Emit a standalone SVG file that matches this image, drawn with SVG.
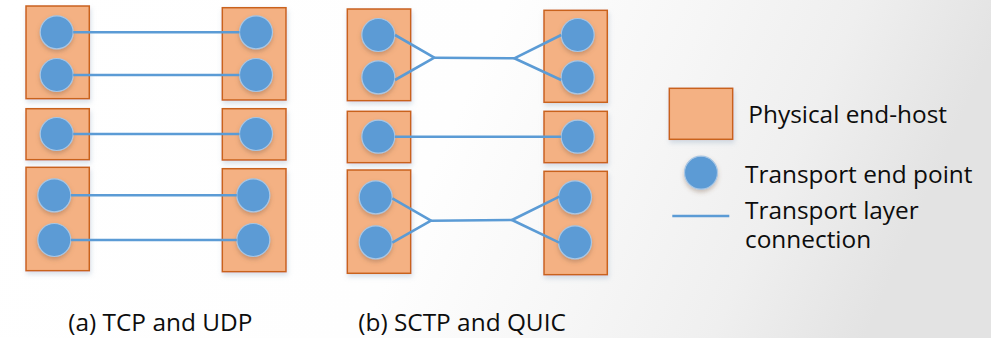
<svg xmlns="http://www.w3.org/2000/svg" width="991" height="338" viewBox="0 0 991 338">
  <defs>
    <linearGradient id="bg" x1="0" y1="0" x2="1" y2="0.15">
      <stop offset="0" stop-color="#ffffff"/>
      <stop offset="0.5" stop-color="#fefefe"/>
      <stop offset="0.7" stop-color="#f6f6f6"/>
      <stop offset="0.85" stop-color="#efefef"/>
      <stop offset="1" stop-color="#e3e3e3"/>
    </linearGradient>
    <filter id="shadow" x="-30%" y="-30%" width="160%" height="160%">
      <feDropShadow dx="1" dy="3" stdDeviation="2.5" flood-color="#8fa6c0" flood-opacity="0.35"/>
    </filter>
    <filter id="dotShadow" x="-40%" y="-40%" width="180%" height="180%">
      <feDropShadow dx="0" dy="2.5" stdDeviation="2" flood-color="#7a5a40" flood-opacity="0.35"/>
    </filter>
  </defs>
  <style>
    .host { fill: #f4b183; stroke: #c9621c; stroke-width: 1.5; filter: url(#shadow); }
    .ep { fill: #5b9bd5; stroke: #a8c6e4; stroke-width: 1.2; filter: url(#dotShadow); }
    .conn { fill: none; stroke: #5b9bd5; stroke-width: 2.6; stroke-linejoin: round; }
    .label { font-family: "Open Sans", "Liberation Sans", sans-serif; font-size: 24.4px; fill: #0d0d0d; }
  </style>

  <rect x="0" y="0" width="991" height="338" fill="url(#bg)"/>

  <!-- (a) TCP and UDP: one connection per endpoint pair -->
  <g id="a-host-top-left"><rect class="host" x="26" y="6" width="63.3" height="92.7"/><circle class="ep" cx="56.7" cy="32.3" r="16.5"/><circle class="ep" cx="56.7" cy="75" r="16.5"/></g>
  <g id="a-host-top-right"><rect class="host" x="222.3" y="7.7" width="63.7" height="92.3"/><circle class="ep" cx="256" cy="32.3" r="16.5"/><circle class="ep" cx="256" cy="75" r="16.5"/></g>
  <g id="a-host-mid-left"><rect class="host" x="26" y="108.7" width="63.3" height="51"/><circle class="ep" cx="56.7" cy="134" r="16.5"/></g>
  <g id="a-host-mid-right"><rect class="host" x="222.3" y="108.7" width="63.7" height="51.3"/><circle class="ep" cx="256" cy="134" r="16.5"/></g>
  <g id="a-host-bot-left"><rect class="host" x="26" y="167.3" width="63.3" height="103.4"/><circle class="ep" cx="54.3" cy="195.3" r="16.5"/><circle class="ep" cx="54.3" cy="240" r="16.5"/></g>
  <g id="a-host-bot-right"><rect class="host" x="222.3" y="168.7" width="63.7" height="103"/><circle class="ep" cx="253.3" cy="195.3" r="16.5"/><circle class="ep" cx="253.3" cy="240" r="16.5"/></g>

  <!-- (b) SCTP and QUIC: multiple endpoints share one connection -->
  <g id="b-host-top-left"><rect class="host" x="347.3" y="9" width="63.4" height="91.7"/><circle class="ep" cx="378.3" cy="35" r="16.5"/><circle class="ep" cx="378.3" cy="77.3" r="16.5"/></g>
  <g id="b-host-top-right"><rect class="host" x="544" y="10.3" width="63.3" height="92"/><circle class="ep" cx="577.7" cy="35" r="16.5"/><circle class="ep" cx="577.7" cy="77.3" r="16.5"/></g>
  <g id="b-host-mid-left"><rect class="host" x="347.3" y="111.3" width="63.4" height="51.4"/><circle class="ep" cx="378.3" cy="136.7" r="16.5"/></g>
  <g id="b-host-mid-right"><rect class="host" x="544" y="111.3" width="63.3" height="51.4"/><circle class="ep" cx="577.7" cy="136.7" r="16.5"/></g>
  <g id="b-host-bot-left"><rect class="host" x="347.3" y="170" width="63.4" height="103.3"/><circle class="ep" cx="375.7" cy="197.3" r="16.5"/><circle class="ep" cx="375.7" cy="242.3" r="16.5"/></g>
  <g id="b-host-bot-right"><rect class="host" x="544" y="171.3" width="63.3" height="103.4"/><circle class="ep" cx="575" cy="197.3" r="16.5"/><circle class="ep" cx="575" cy="242.3" r="16.5"/></g>

  <!-- transport layer connections -->
  <g id="connectors">
    <line class="conn" x1="73.2" y1="32.3" x2="239.5" y2="32.3"/>
    <line class="conn" x1="73.2" y1="75" x2="239.5" y2="75"/>
    <line class="conn" x1="73.2" y1="134" x2="239.5" y2="134"/>
    <line class="conn" x1="70.8" y1="195.3" x2="236.8" y2="195.3"/>
    <line class="conn" x1="70.8" y1="240" x2="236.8" y2="240"/>

    <polyline class="conn" points="395,35 434.3,57.7 395,80"/>
    <line class="conn" x1="434.3" y1="57.7" x2="514.3" y2="58.3"/>
    <polyline class="conn" points="561.2,35 514.3,58.3 561.2,80"/>
    <line class="conn" x1="394.8" y1="136.7" x2="561.2" y2="136.7"/>
    <polyline class="conn" points="392.3,198.3 431,220.7 392.3,242.7"/>
    <line class="conn" x1="431" y1="220.7" x2="512" y2="220"/>
    <polyline class="conn" points="559.3,196.7 512,220 559.3,242.7"/>
  </g>

  <!-- legend -->
  <g id="legend-host"><rect class="host" x="669.3" y="88.3" width="63.4" height="51"/><text class="label" x="748.3" y="122.7">Physical end-host</text></g>
  <g id="legend-endpoint"><circle class="ep" cx="701" cy="172.7" r="16.5"/><text class="label" x="745" y="182.7">Transport end point</text></g>
  <g id="legend-connection"><line class="conn" x1="672.3" y1="216" x2="729.3" y2="216" stroke-width="2.2"/><text class="label" x="745" y="218.5">Transport layer<tspan x="745" dy="29.5">connection</tspan></text></g>

  <!-- captions -->
  <text class="label" x="68.3" y="331">(a) TCP and UDP</text>
  <text class="label" x="358.3" y="331">(b) SCTP and QUIC</text>
</svg>
